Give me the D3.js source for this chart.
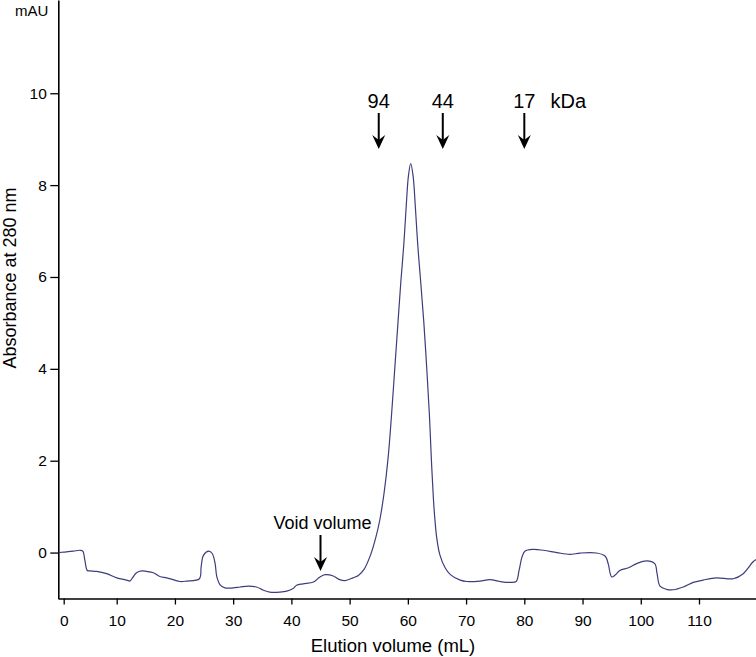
<!DOCTYPE html>
<html>
<head>
<meta charset="utf-8">
<script src="https://cdn.jsdelivr.net/npm/d3@7/dist/d3.min.js"></script>
<style>
  html, body { margin: 0; padding: 0; background: #fff; }
  svg { display: block; font-family: "Liberation Sans", Arial, sans-serif; }
</style>
</head>
<body>
<svg id="chart" width="756" height="657"></svg>
<script>
// ---- data ----
const volume = [-0.9, 0, 1.8, 3.1, 3.6, 4.0, 4.45, 5.0, 6.2, 8.1, 10, 11.7, 12.3, 12.6, 13.4, 14.3, 15.1, 16.3, 17.4, 18.6, 19.7, 20.9, 22.0, 24.2, 24.5, 24.9, 25.8, 26.4, 26.9, 27.2, 27.8, 28.6, 30.0, 31.2, 32.6, 34.0, 35.2, 36.3, 38.0, 39.2, 40.3, 40.9, 42.0, 43.8, 44.9, 45.8, 47.2, 48.3, 49.2, 50.6, 51.5, 52.5, 53.6, 54.5, 55.2, 55.9, 56.6, 57.2, 57.75, 58.3, 58.8, 59.3, 59.7, 60.1, 60.49, 60.9, 61.3, 61.7, 62.2, 62.75, 63.25, 63.7, 64.05, 64.4, 64.66, 64.95, 65.5, 66.4, 67.3, 69.0, 70.1, 72.4, 74.1, 75.8, 77.5, 78.6, 79.1, 79.6, 80.1, 81.5, 83.3, 85.6, 87.8, 89.6, 92.4, 93.9, 94.4, 95.0, 95.6, 96.4, 97.9, 99.3, 101.0, 102.4, 102.8, 103.3, 104.4, 105.6, 107.3, 109.0, 110.7, 113.0, 115.9, 117.6, 119.3, 119.8];
const absorbance = [0.0, 0.01, 0.03, 0.05, 0.03, -0.17, -0.39, -0.40, -0.41, -0.46, -0.55, -0.60, -0.62, -0.57, -0.44, -0.40, -0.41, -0.44, -0.52, -0.55, -0.59, -0.63, -0.62, -0.57, -0.31, -0.06, 0.03, -0.02, -0.24, -0.53, -0.71, -0.77, -0.77, -0.75, -0.73, -0.75, -0.82, -0.86, -0.86, -0.84, -0.78, -0.71, -0.68, -0.64, -0.53, -0.48, -0.51, -0.59, -0.61, -0.55, -0.50, -0.36, -0.05, 0.33, 0.72, 1.28, 2.05, 3.0, 4.0, 5.0, 5.9, 6.7, 7.5, 8.2, 8.47, 8.2, 7.5, 6.7, 5.9, 5.0, 4.0, 3.0, 2.0, 1.15, 0.70, 0.33, -0.05, -0.33, -0.48, -0.60, -0.63, -0.62, -0.59, -0.63, -0.65, -0.63, -0.39, -0.10, 0.03, 0.07, 0.05, 0.0, -0.04, -0.01, -0.01, -0.08, -0.24, -0.53, -0.49, -0.39, -0.33, -0.24, -0.18, -0.24, -0.46, -0.73, -0.80, -0.81, -0.75, -0.65, -0.60, -0.55, -0.57, -0.46, -0.20, -0.15];

const xTicks = [0, 10, 20, 30, 40, 50, 60, 70, 80, 90, 100, 110];
const yTicks = [0, 2, 4, 6, 8, 10];

const markerLabels = ["94", "44", "17"];
const markerVolumes = [55, 66, 80];
const voidLabel = "Void volume";
const voidVolume = 45;

// ---- layout ----
const svg = d3.select("#chart");

const x = d3.scaleLinear()
  .domain([-1.05, 0, 10, 110, 119.8])
  .range([58, 63.7, 116.7, 699, 756]);
const y = d3.scaleLinear().domain([-1, 12.03]).range([598.5, 0]);

const FONT = '"Liberation Sans", Arial, sans-serif';

// x axis
const gx = svg.append("g")
  .attr("transform", "translate(0,598.5)")
  .call(d3.axisBottom(x).tickValues(xTicks).tickSize(6).tickSizeOuter(0).tickPadding(10));
gx.select(".domain").attr("stroke", "#000").attr("stroke-width", 1.6);
gx.selectAll(".tick line").attr("stroke", "#000").attr("stroke-width", 1.3);
gx.selectAll(".tick text").attr("font-size", 15.5).attr("font-family", FONT).attr("fill", "#000");

// y axis
const gy = svg.append("g")
  .attr("transform", "translate(58.3,0)")
  .call(d3.axisLeft(y).tickValues(yTicks).tickSize(8).tickSizeOuter(0).tickPadding(3.5));
gy.select(".domain").attr("stroke", "#000").attr("stroke-width", 1.6);
gy.selectAll(".tick line").attr("stroke", "#000").attr("stroke-width", 1.3);
gy.selectAll(".tick text").attr("font-size", 15.5).attr("font-family", FONT).attr("fill", "#000");

// titles
svg.append("text").attr("x", 15).attr("y", 15.5)
  .attr("font-size", 15).attr("fill", "#000").text("mAU");

svg.append("text")
  .attr("transform", "translate(16,278) rotate(-90)")
  .attr("text-anchor", "middle").attr("font-size", 18).attr("fill", "#000")
  .text("Absorbance at 280 nm");

svg.append("text").attr("x", 393).attr("y", 652)
  .attr("text-anchor", "middle").attr("font-size", 18.5).attr("fill", "#000")
  .text("Elution volume (mL)");

// curve
const pts = volume.map((v, i) => [v, absorbance[i]]);
const line = d3.line().x(d => x(d[0])).y(d => y(d[1])).curve(d3.curveCatmullRom.alpha(0.5));
svg.append("path")
  .datum(pts)
  .attr("fill", "none")
  .attr("stroke", "#3d3d7d")
  .attr("stroke-width", 1.2)
  .attr("d", line);

// arrows
function arrow(cx, y1, y2) {
  svg.append("line").attr("x1", cx).attr("x2", cx).attr("y1", y1).attr("y2", y2 - 8)
    .attr("stroke", "#000").attr("stroke-width", 2);
  const p = d3.path();
  p.moveTo(cx, y2);
  p.lineTo(cx - 6.5, y2 - 14);
  p.lineTo(cx, y2 - 9);
  p.lineTo(cx + 6.5, y2 - 14);
  p.closePath();
  svg.append("path").attr("d", p.toString()).attr("fill", "#000");
}

markerVolumes.forEach((v, i) => {
  const cx = x(v);
  svg.append("text").attr("x", cx).attr("y", 107.5)
    .attr("text-anchor", "middle").attr("font-size", 20).attr("fill", "#000")
    .text(markerLabels[i]);
  arrow(cx, 113, 149);
});
svg.append("text").attr("x", 550.5).attr("y", 107.5)
  .attr("font-size", 20).attr("fill", "#000").text("kDa");

svg.append("text").attr("x", x(voidVolume) + 2).attr("y", 528.5)
  .attr("text-anchor", "middle").attr("font-size", 18).attr("fill", "#000")
  .text(voidLabel);
arrow(x(voidVolume), 535, 571);
</script>
</body>
</html>
